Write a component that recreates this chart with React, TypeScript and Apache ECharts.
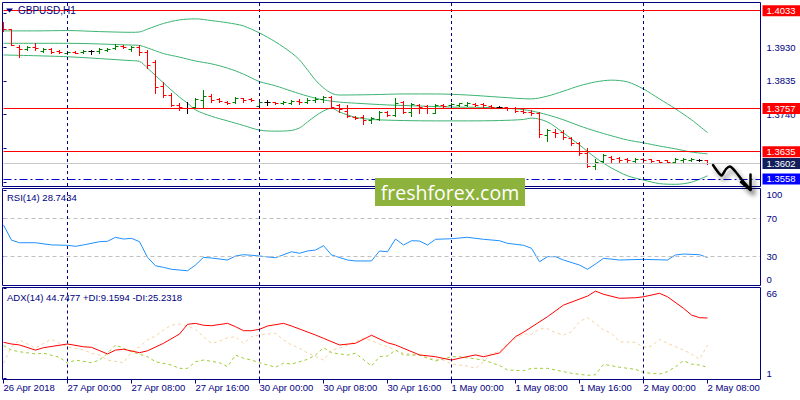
import React, { useEffect, useRef } from 'react';
import * as echarts from 'echarts';

// ---------- labels / ticks ----------
const timeLabels = ['26 Apr 2018', '27 Apr 00:00', '27 Apr 08:00', '27 Apr 16:00', '30 Apr 00:00', '30 Apr 08:00', '30 Apr 16:00', '1 May 00:00', '1 May 08:00', '1 May 16:00', '2 May 00:00', '2 May 08:00'];
const barsPerLabel = 8;
const separatorBars = [8, 32, 56, 80];
const priceTicks = [1.355, 1.3645, 1.374, 1.3835, 1.393, 1.4025];
const priceTickLabels = [1.374, 1.3835, 1.393];
const resistanceLevels = [1.4033, 1.3757, 1.3635];
const bidPrice = 1.3602;
const supportLevel = 1.3558;
const trendStartBar = 69.4;
const rsiTicks = [0, 30, 70, 100];
const rsiLevels = [70, 30];
const adxTicks = [1, 66];

// ---------- GBPUSD H1 bars ----------
const opens = [1.4001, 1.3981, 1.3931, 1.3925, 1.3931, 1.3919, 1.3925, 1.3919, 1.3914, 1.3916,
  1.3916, 1.3918, 1.3919, 1.3922, 1.3928, 1.3933, 1.3925, 1.3931, 1.3916, 1.3888,
  1.3821, 1.3795, 1.3767, 1.3758, 1.3761, 1.3781, 1.3792, 1.3784, 1.3775, 1.3775,
  1.3787, 1.3784, 1.3764, 1.3775, 1.3775, 1.3772, 1.3772, 1.3778, 1.3775, 1.3781,
  1.3784, 1.3789, 1.3767, 1.375, 1.3733, 1.3733, 1.3725, 1.3727, 1.3747, 1.3739,
  1.3775, 1.3747, 1.3767, 1.3764, 1.3744, 1.3767, 1.3767, 1.3767, 1.3767, 1.377,
  1.377, 1.3764, 1.3761, 1.3761, 1.3758, 1.375, 1.3747, 1.3744, 1.3682, 1.3691,
  1.3691, 1.3674, 1.366, 1.3631, 1.3595, 1.3609, 1.3621, 1.3618, 1.3615, 1.3609,
  1.3615, 1.3615, 1.3612, 1.3612, 1.3606, 1.3612, 1.3612, 1.3612, 1.3612];
const highs = [1.4001, 1.3981, 1.3936, 1.3933, 1.3942, 1.3928, 1.3928, 1.3922, 1.3919, 1.3919,
  1.3922, 1.3922, 1.3928, 1.3928, 1.3939, 1.3936, 1.3933, 1.3936, 1.3922, 1.3894,
  1.3832, 1.3801, 1.3772, 1.3775, 1.3787, 1.3809, 1.3798, 1.3787, 1.3778, 1.3789,
  1.3787, 1.3787, 1.3781, 1.3781, 1.3775, 1.3778, 1.3781, 1.3784, 1.3787, 1.3789,
  1.3792, 1.3792, 1.377, 1.3767, 1.3736, 1.3739, 1.3733, 1.375, 1.375, 1.3787,
  1.3778, 1.3772, 1.377, 1.3767, 1.377, 1.377, 1.3772, 1.3772, 1.3775, 1.3772,
  1.3772, 1.3767, 1.3764, 1.3761, 1.3761, 1.3756, 1.3753, 1.3747, 1.3699, 1.3699,
  1.3696, 1.3677, 1.3662, 1.3645, 1.3615, 1.3629, 1.3623, 1.3621, 1.3618, 1.3618,
  1.3618, 1.3615, 1.3612, 1.3612, 1.3618, 1.3618, 1.3618, 1.3615, 1.3612];
const lows = [1.3976, 1.3936, 1.3902, 1.3922, 1.3922, 1.3916, 1.3914, 1.3914, 1.3911, 1.3914,
  1.3914, 1.3911, 1.3914, 1.3919, 1.3925, 1.3928, 1.3919, 1.3908, 1.3871, 1.3801,
  1.3789, 1.3764, 1.3753, 1.3744, 1.3758, 1.3761, 1.3775, 1.3775, 1.377, 1.3772,
  1.3775, 1.3778, 1.3761, 1.3767, 1.377, 1.377, 1.377, 1.377, 1.3772, 1.3775,
  1.3775, 1.3758, 1.3747, 1.3733, 1.3727, 1.3713, 1.3716, 1.3725, 1.3736, 1.3736,
  1.3744, 1.3736, 1.3744, 1.3744, 1.3744, 1.3761, 1.3764, 1.3764, 1.3764, 1.3764,
  1.3761, 1.3758, 1.3758, 1.3753, 1.3747, 1.3744, 1.3739, 1.3677, 1.3665, 1.3677,
  1.3671, 1.3654, 1.3626, 1.3592, 1.3586, 1.3606, 1.3606, 1.3606, 1.3606, 1.3606,
  1.3606, 1.3606, 1.3603, 1.3603, 1.3603, 1.3606, 1.3609, 1.3609, 1.36];
const closes = [1.3981, 1.3936, 1.3925, 1.3931, 1.3928, 1.3925, 1.3916, 1.3916, 1.3916, 1.3914,
  1.3919, 1.3918, 1.3925, 1.3925, 1.3933, 1.3931, 1.3931, 1.3916, 1.388, 1.3818,
  1.3795, 1.3767, 1.3761, 1.3758, 1.3784, 1.3792, 1.3781, 1.3778, 1.3772, 1.3787,
  1.3781, 1.3781, 1.3775, 1.3775, 1.3772, 1.3775, 1.3778, 1.3775, 1.3781, 1.3784,
  1.3789, 1.3761, 1.3756, 1.3736, 1.373, 1.3725, 1.373, 1.3747, 1.3739, 1.3772,
  1.3747, 1.377, 1.3761, 1.3758, 1.3767, 1.3764, 1.377, 1.3772, 1.3772, 1.3767,
  1.3767, 1.3761, 1.3761, 1.3758, 1.375, 1.3747, 1.3744, 1.3685, 1.3696, 1.3688,
  1.3677, 1.366, 1.3631, 1.3595, 1.3606, 1.3626, 1.3615, 1.3612, 1.3612, 1.3615,
  1.3612, 1.3609, 1.3606, 1.3606, 1.3615, 1.3615, 1.3615, 1.3612, 1.3602];

// ---------- Bollinger Bands (bar index, price) ----------
const upperBand = [[0, 1.3976], [4, 1.3976], [8, 1.3977], [12, 1.3974], [16, 1.3972], [17, 1.3973], [18, 1.3981], [20, 1.3997], [22, 1.4007], [24, 1.401], [26, 1.4005], [28, 1.3999], [30, 1.399], [32, 1.397], [34, 1.3945], [36, 1.3914], [37, 1.3894], [38, 1.3866], [39, 1.3837], [40, 1.3815], [41, 1.38], [42, 1.3795], [46, 1.3796], [50, 1.3798], [54, 1.3798], [58, 1.3795], [62, 1.3789], [66, 1.3784], [68, 1.3792], [70, 1.3806], [72, 1.3821], [74, 1.3832], [76, 1.3837], [78, 1.3832], [80, 1.3812], [82, 1.3784], [84, 1.3756], [86, 1.3725], [88, 1.3689]];
const middleBand = [[0, 1.3941], [8, 1.3941], [16, 1.3936], [17, 1.3935], [18, 1.3928], [20, 1.3912], [22, 1.3902], [24, 1.3891], [26, 1.3883], [28, 1.3871], [30, 1.3854], [32, 1.3833], [34, 1.3821], [36, 1.3806], [38, 1.3792], [40, 1.3781], [42, 1.3775], [44, 1.3772], [48, 1.3767], [52, 1.3764], [56, 1.3761], [60, 1.376], [64, 1.3756], [66, 1.375], [68, 1.3739], [70, 1.3725], [72, 1.3708], [74, 1.3693], [76, 1.368], [78, 1.3668], [80, 1.366], [82, 1.3651], [84, 1.3643], [86, 1.3634], [88, 1.3629]];
const lowerBand = [[0, 1.3908], [8, 1.3903], [16, 1.3892], [17, 1.389], [18, 1.3871], [20, 1.3829], [22, 1.3789], [23, 1.3772], [24, 1.3753], [26, 1.3735], [28, 1.3722], [30, 1.3709], [32, 1.3696], [34, 1.3693], [36, 1.3695], [37, 1.3702], [38, 1.3719], [39, 1.3736], [40, 1.375], [41, 1.3758], [42, 1.3747], [43, 1.3739], [44, 1.3732], [46, 1.3726], [50, 1.3723], [54, 1.3722], [58, 1.3722], [62, 1.3723], [65, 1.3726], [66, 1.373], [68, 1.3719], [70, 1.3688], [72, 1.3654], [74, 1.3618], [76, 1.3589], [78, 1.3567], [80, 1.3555], [82, 1.3545], [84, 1.3543], [86, 1.3549], [88, 1.3567]];

// ---------- RSI(14) ----------
const rsiValues = [[0, 63], [1, 47], [2, 44.3], [4, 44.3], [6, 42], [8, 41.6], [9, 40.5], [10, 42], [12, 45.4], [13, 45.8], [14, 50], [15, 48.2], [16, 48.9], [17, 45.4], [18, 29], [19, 20], [20, 18.4], [21, 16.3], [23, 14.8], [24, 20.8], [25, 28.9], [26, 28.2], [28, 26.1], [29, 30.3], [30, 31.7], [31, 31.1], [32, 30.3], [34, 28.5], [36, 34.8], [37, 33.2], [38, 35.6], [39, 36.6], [40, 41.2], [41, 31.4], [43, 26.1], [44, 25.1], [46, 25.1], [47, 35.6], [48, 34.8], [49, 48.2], [50, 41.9], [51, 46.4], [52, 46.1], [53, 41.9], [54, 47.9], [56, 48.5], [58, 50], [60, 47.9], [62, 46.4], [63, 43.7], [65, 41.6], [66, 38.4], [67, 24.3], [68, 29.6], [69, 29.6], [70, 26.1], [72, 20.8], [73, 16.3], [74, 21.9], [75, 27.9], [77, 26.1], [80, 26.8], [83, 26.1], [84, 31.4], [85, 32.4], [87, 31.7], [88, 28.74]];

// ---------- ADX(14) ----------
const adxValues = [[0, 27.2], [1, 26], [2, 25.3], [4, 21.6], [5, 23.3], [8, 26], [10, 24], [11, 23.6], [13, 18.8], [14, 21.6], [15, 22.2], [17, 19.7], [18, 21.1], [20, 26.5], [22, 33.2], [23, 40.2], [24, 40.9], [25, 39.5], [26, 39.2], [28, 40.9], [29, 38.5], [30, 35.6], [31, 35.6], [32, 36.6], [33, 39], [35, 40.9], [36, 39], [39, 32.5], [40, 30.1], [42, 25.3], [44, 26.5], [46, 32.3], [48, 26.9], [49, 25.3], [52, 18.1], [54, 16.8], [56, 14.4], [57, 15.7], [59, 18.1], [60, 16.8], [62, 19.5], [64, 31.3], [65, 34.5], [68, 45.7], [70, 54.1], [73, 60.6], [74, 64.2], [75, 61.9], [77, 59], [79, 59.4], [80, 60.1], [82, 62.6], [83, 60.1], [85, 51.8], [86, 46.9], [87, 45], [88, 44.75]];
const plusDiValues = [[0, 24.8], [1, 21.6], [2, 20.4], [4, 18.8], [5, 19.3], [7, 16.4], [8, 12.1], [9, 14.4], [11, 12.5], [12, 14.4], [13, 19.3], [14, 25.3], [15, 22.9], [16, 20.4], [18, 16.8], [19, 13.2], [21, 10.8], [22, 8.4], [23, 8.4], [24, 13.2], [25, 14.4], [27, 12.5], [28, 9.6], [29, 18], [30, 15.7], [31, 14.4], [32, 12.5], [34, 9.2], [35, 12.1], [36, 11.5], [38, 14.9], [39, 18], [40, 23.3], [41, 19.7], [43, 18], [44, 19.3], [46, 10.1], [47, 16.8], [48, 17.3], [49, 21.6], [50, 18], [52, 18], [54, 13.7], [56, 16.8], [57, 16.8], [60, 14.4], [62, 10.5], [63, 7.2], [65, 6.7], [66, 8.4], [68, 8.4], [70, 6], [71, 4.8], [73, 3.4], [74, 3.8], [75, 11.3], [77, 9.2], [79, 7.7], [80, 5.3], [82, 4.3], [83, 6], [84, 9.6], [85, 13.9], [86, 11.5], [87, 10.8], [88, 9.16]];
const minusDiValues = [[0, 12.1], [1, 24], [2, 28.9], [3, 26], [4, 22.9], [5, 26.5], [6, 29.4], [7, 26.5], [8, 24], [10, 21.6], [11, 19.3], [12, 18], [13, 14.4], [15, 12.5], [16, 20.4], [17, 24], [18, 29], [19, 31.8], [20, 36.1], [21, 39.5], [22, 40.4], [23, 39], [24, 36.5], [25, 31.3], [26, 26.5], [27, 28], [28, 30.5], [29, 31.3], [30, 26.5], [31, 31.3], [32, 32.5], [34, 33.7], [35, 28.9], [36, 25.3], [37, 23], [38, 19.5], [39, 17], [40, 14.4], [41, 21.6], [42, 22.9], [43, 25.3], [45, 30.1], [46, 28.4], [47, 26], [48, 24], [49, 21.6], [50, 19.3], [52, 18], [53, 15.7], [55, 14.4], [56, 11.5], [57, 10.8], [58, 10.1], [59, 8.4], [60, 13.2], [61, 19.3], [62, 20.5], [63, 26.5], [65, 33.2], [66, 33], [67, 37], [68, 37], [69, 34.1], [70, 32.5], [71, 34.9], [72, 42.1], [73, 45], [74, 40.9], [75, 36], [76, 33.7], [77, 27.6], [79, 27.2], [80, 23.6], [81, 24.5], [82, 29.4], [83, 26.5], [85, 21.6], [86, 18.8], [87, 14.9], [88, 25.23]];

// ---------- styling ----------
const NAVY = '#000080';
const FONT = '"Liberation Sans", Arial, sans-serif';
const X_MAX = 94.625;
const PRICE_MIN = 1.353822;
const PRICE_MAX = 1.405473;

function levelItem(price: number, lineColor: string, boxColor: string, lineType: any = 'solid') {
  return {
    yAxis: price,
    lineStyle: { color: lineColor, type: lineType, width: 1 },
    label: {
      show: true, position: 'end', distance: 2,
      formatter: () => price.toFixed(4),
      color: '#ffffff', backgroundColor: boxColor,
      padding: [1, 3, 0, 4], width: 31, lineHeight: 10,
      fontSize: 9.5, fontFamily: FONT,
    },
  };
}

function separatorItems() {
  return separatorBars.map((b) => ({
    xAxis: b,
    lineStyle: { color: NAVY, type: [3, 3], width: 1 },
    label: { show: false },
  }));
}

function xAxisFor(gridIndex: number, visible: boolean) {
  return {
    type: 'value', gridIndex, min: 0, max: X_MAX, interval: barsPerLabel,
    show: visible,
    axisLine: { show: false },
    splitLine: { show: false },
    axisTick: { show: visible, length: 4, lineStyle: { color: NAVY } },
    axisLabel: {
      show: visible, align: 'left', margin: 3, color: NAVY, fontSize: 9.5, fontFamily: FONT,
      showMaxLabel: false,
      formatter: (v: number) => {
        const k = Math.round(v / barsPerLabel);
        return Math.abs(v - k * barsPerLabel) < 1e-6 && timeLabels[k] ? timeLabels[k] : '';
      },
    },
  };
}

function yAxisFor(gridIndex: number, min: number, max: number, ticks: number[], labels: number[], fmt: (v: number) => string, edgeAlign: boolean) {
  return {
    type: 'value', gridIndex, position: 'right', min, max, scale: true,
    axisLine: { show: false },
    splitLine: { show: false },
    axisTick: { show: true, length: 3, lineStyle: { color: NAVY }, customValues: ticks },
    axisLabel: {
      show: true, customValues: labels, formatter: fmt, color: NAVY, fontSize: 9.5, fontFamily: FONT, margin: 6,
      ...(edgeAlign ? { verticalAlignMinLabel: 'bottom', verticalAlignMaxLabel: 'top' } : {}),
    },
  };
}

function frame(x1: number, y1: number, x2: number, y2: number) {
  return {
    type: 'rect', z: 50, silent: true,
    shape: { x: x1, y: y1, width: x2 - x1, height: y2 - y1 },
    style: { fill: 'none', stroke: NAVY, lineWidth: 1 },
  };
}

export default function App() {
  const ref = useRef<HTMLDivElement>(null);

  useEffect(() => {
    if (!ref.current) return;
    const chart = echarts.init(ref.current, null, { renderer: 'svg' });

    const barData = opens.map((o, i) => [i, o, highs[i], lows[i], closes[i]]);
    const trendLineStyle = { color: '#0000ff', width: 1.3, type: 'solid', shadowColor: 'rgba(0,0,0,0.45)', shadowBlur: 5, shadowOffsetY: 3 };
    const arrowStyle = { stroke: '#000000', lineWidth: 2.5, fill: 'none', lineJoin: 'round', lineCap: 'round', shadowColor: 'rgba(0,0,0,0.45)', shadowBlur: 5, shadowOffsetX: 3, shadowOffsetY: 4 };

    const option: any = {
      animation: false,
      backgroundColor: '#ffffff',
      grid: [
        { left: 3.5, top: 3, width: 757, height: 183, show: false },
        { left: 3.5, top: 188, width: 757, height: 97, show: false },
        { left: 3.5, top: 287, width: 757, height: 92.5, show: false },
      ],
      xAxis: [xAxisFor(0, false), xAxisFor(1, false), xAxisFor(2, true)],
      yAxis: [
        yAxisFor(0, PRICE_MIN, PRICE_MAX, priceTicks, priceTickLabels, (v) => v.toFixed(4), false),
        yAxisFor(1, -0.2, 101.9, rsiTicks, rsiTicks, (v) => String(Math.round(v)), true),
        yAxisFor(2, 0.35, 67.16, adxTicks, adxTicks, (v) => String(Math.round(v)), true),
      ],
      series: [
        {
          type: 'line', name: 'upper', xAxisIndex: 0, yAxisIndex: 0, data: upperBand,
          showSymbol: false, smooth: 0.3, lineStyle: { color: '#3CB371', width: 1 }, silent: true, z: 2,
        },
        {
          type: 'line', name: 'lower', xAxisIndex: 0, yAxisIndex: 0, data: lowerBand,
          showSymbol: false, smooth: 0.3, lineStyle: { color: '#3CB371', width: 1 }, silent: true, z: 2,
        },
        {
          type: 'line', name: 'middle', xAxisIndex: 0, yAxisIndex: 0, data: middleBand,
          showSymbol: false, smooth: 0.3, lineStyle: { color: '#3CB371', width: 1 }, silent: true, z: 2,
          markLine: {
            silent: true, symbol: ['none', 'none'], animation: false, precision: 4,
            label: { show: false },
            data: [
              ...separatorItems(),
              { yAxis: bidPrice, lineStyle: { color: '#C8C8C8', type: 'solid', width: 1 }, label: levelItem(bidPrice, '#C8C8C8', '#13205c').label },
              levelItem(supportLevel, '#0000CD', '#0000ff', [8, 3, 2, 3]),
              ...resistanceLevels.map((p) => levelItem(p, '#ff0000', '#ff0000')),
              [
                { coord: [trendStartBar, resistanceLevels[2]], lineStyle: trendLineStyle, label: { show: false } },
                { coord: [X_MAX, resistanceLevels[2]], lineStyle: trendLineStyle, label: { show: false } },
              ],
            ],
          },
        },
        {
          type: 'custom', name: 'bars', xAxisIndex: 0, yAxisIndex: 0, data: barData, clip: true, z: 4,
          encode: { x: 0, y: [1, 2, 3, 4] },
          renderItem: (params: any, api: any) => {
            const i = api.value(0);
            const o = api.value(1), h = api.value(2), l = api.value(3), c = api.value(4);
            const pO = api.coord([i, o]);
            const pH = api.coord([i, h]);
            const pL = api.coord([i, l]);
            const pC = api.coord([i, c]);
            const x = Math.floor(pO[0]) + 0.5;
            const color = c > o ? '#008000' : c < o ? '#ff0000' : '#000000';
            const yo = Math.round(pO[1]) + 0.5;
            const yc = Math.round(pC[1]) + 0.5;
            const st = { stroke: color, lineWidth: 1 };
            return {
              type: 'group',
              children: [
                { type: 'line', shape: { x1: x, y1: Math.round(pH[1]), x2: x, y2: Math.round(pL[1]) + 1 }, style: st },
                { type: 'line', shape: { x1: x - 3, y1: yo, x2: x, y2: yo }, style: st },
                { type: 'line', shape: { x1: x, y1: yc, x2: x + 3, y2: yc }, style: st },
              ],
            };
          },
        },
        {
          type: 'line', name: 'RSI', xAxisIndex: 1, yAxisIndex: 1, data: rsiValues,
          showSymbol: false, lineStyle: { color: '#1E90FF', width: 1 }, silent: true,
          markLine: {
            silent: true, symbol: ['none', 'none'], animation: false, label: { show: false },
            data: [
              ...rsiLevels.map((v) => ({ yAxis: v, lineStyle: { color: '#C0C0C0', type: [4, 3], width: 1 }, label: { show: false } })),
              ...separatorItems(),
            ],
          },
        },
        {
          type: 'line', name: '-DI', xAxisIndex: 2, yAxisIndex: 2, data: minusDiValues,
          showSymbol: false, lineStyle: { color: '#F5D3A3', width: 1, type: [3, 3] }, silent: true,
        },
        {
          type: 'line', name: '+DI', xAxisIndex: 2, yAxisIndex: 2, data: plusDiValues,
          showSymbol: false, lineStyle: { color: '#9ACD32', width: 1, type: [3, 3] }, silent: true,
        },
        {
          type: 'line', name: 'ADX', xAxisIndex: 2, yAxisIndex: 2, data: adxValues,
          showSymbol: false, lineStyle: { color: '#FF0000', width: 1 }, silent: true,
          markLine: {
            silent: true, symbol: ['none', 'none'], animation: false, label: { show: false },
            data: separatorItems(),
          },
        },
      ],
      graphic: [
        frame(2.5, 2.5, 760.5, 186.5),
        frame(2.5, 188.5, 760.5, 285.5),
        frame(2.5, 287.5, 760.5, 379.5),
        { type: 'polygon', shape: { points: [[6, 8.5], [13, 8.5], [9.5, 12.5]] }, style: { fill: NAVY }, z: 100 },
        { type: 'text', x: 18, y: 10.5, style: { text: 'GBPUSD,H1', fill: NAVY, font: `10px ${FONT}`, verticalAlign: 'middle' }, z: 100 },
        { type: 'text', x: 7, y: 197.5, style: { text: 'RSI(14) 28.7434', fill: NAVY, font: `9.5px ${FONT}`, verticalAlign: 'middle' }, z: 100 },
        { type: 'text', x: 7, y: 297, style: { text: 'ADX(14) 44.7477 +DI:9.1594 -DI:25.2318', fill: NAVY, font: `9.5px ${FONT}`, verticalAlign: 'middle' }, z: 100 },
        { type: 'rect', z: 300, silent: true, shape: { x: 375, y: 178, width: 150, height: 28 }, style: { fill: '#8DB33C' } },
        { type: 'text', z: 301, silent: true, x: 450, y: 192, style: { text: 'freshforex.com', fill: '#ffffff', font: `19.5px "Open Sans", sans-serif`, align: 'center', verticalAlign: 'middle' } },
        {
          type: 'polyline', z: 300, silent: true,
          shape: { points: [[713, 165], [721.5, 175.5], [726, 169], [730, 166.5], [735, 171], [742, 180], [750.5, 189.5]], smooth: 0.25 },
          style: arrowStyle,
        },
        {
          type: 'polyline', z: 300, silent: true,
          shape: { points: [[741, 182], [750.5, 190], [750.5, 174.5]] },
          style: arrowStyle,
        },
      ],
    };

    chart.setOption(option);
    return () => chart.dispose();
  }, []);

  return <div ref={ref} style={{ position: 'absolute', left: 0, top: 0, width: 800, height: 400, background: '#ffffff' }} />;
}
